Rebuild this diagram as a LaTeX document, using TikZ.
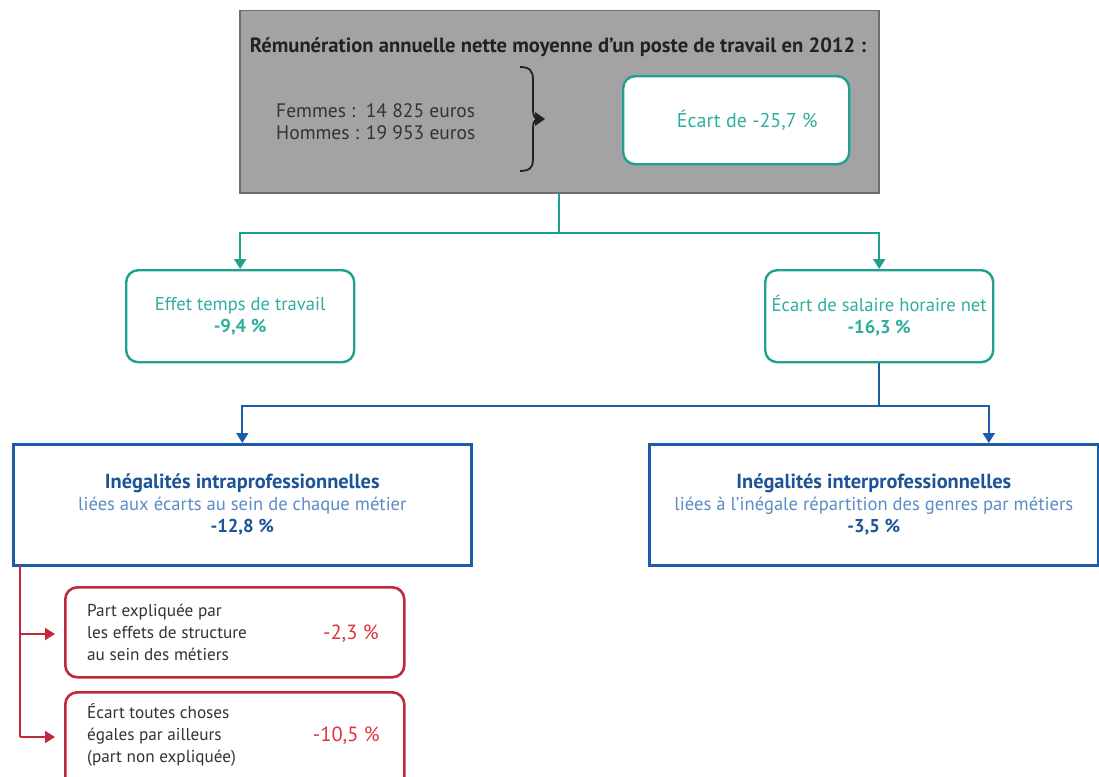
\documentclass[tikz,border=0pt]{standalone}
\usepackage{fontspec}
\setmainfont{PT Sans}
\usetikzlibrary{arrows.meta,positioning}
\definecolor{graybg}{HTML}{A3A3A6}
\definecolor{grayedge}{HTML}{6E6E70}
\definecolor{tealc}{HTML}{22A08F}
\definecolor{tealt}{HTML}{2FAE9E}
\definecolor{bluec}{HTML}{1F5CA8}
\definecolor{bluet}{HTML}{1D5497}
\definecolor{bluel}{HTML}{5D8BC5}
\definecolor{redc}{HTML}{C2283A}
\definecolor{redt}{HTML}{E2313F}
\definecolor{darkt}{HTML}{222222}
\definecolor{bodyt}{HTML}{333333}
\tikzset{
  tealbox/.style={draw=tealc, line width=2.4pt, rounded corners=12pt, fill=white, minimum width=228pt, minimum height=92pt, align=center, text=tealt, font=\fontsize{18.6}{22}\selectfont},
  bluebox/.style={draw=bluec, line width=2.6pt, fill=white, minimum width=458pt, minimum height=121pt, align=center, font=\fontsize{18.6}{22}\selectfont},
  redbox/.style={draw=redc, line width=2.6pt, rounded corners=12pt, fill=white, minimum width=339pt, minimum height=90pt},
  tline/.style={draw=tealc, line width=2pt},
  bline/.style={draw=bluec, line width=2pt},
  rline/.style={draw=redc, line width=2pt},
  tip/.style={-{Triangle[width=12pt,length=10pt]}},
}
\begin{document}
\begin{tikzpicture}[x=1pt,y=-1pt]
\useasboundingbox (0,0) rectangle (1099,776);
\clip (0,0) rectangle (1099,776);
% top gray box
\node[draw=grayedge, line width=1.5pt, fill=graybg, minimum width=639pt, minimum height=182pt, anchor=north west, inner sep=0pt] (top) at (239,10) {};
\node[font=\bfseries\fontsize{20.6}{24}\selectfont, text=darkt] (title) at (558,47) {Rémunération annuelle nette moyenne d'un poste de travail en 2012 :};
\node[anchor=west, align=left, text=bodyt, font=\fontsize{19.5}{22}\selectfont, inner sep=0pt] (fh) at (276,122) {Femmes :\ \ 14 825 euros\\Hommes : 19 953 euros};
% brace
\draw[line width=1.8pt, draw=darkt] (520,67) .. controls (530,67) and (533,71) .. (533,80) -- (533,110) .. controls (533,116) and (535,119) .. (538,119) .. controls (535,119) and (533,122) .. (533,128) -- (533,160) .. controls (533,167) and (530,171) .. (520,171);
\fill[darkt] (535,112) -- (545,119) -- (535,126) -- cycle;
\node[tealbox, minimum width=226pt, minimum height=88pt, anchor=north west, font=\fontsize{20}{22}\selectfont] (ecart) at (622,75) {\hspace*{22pt}Écart de -25,7 \%};
% teal boxes
\node[tealbox, anchor=north west] (b1) at (125,269) {Effet temps de travail\\\textbf{-9,4 \%}};
\node[tealbox, anchor=north west] (b2) at (764,269) {Écart de salaire horaire net\\\textbf{-16,3 \%}};
\draw[tline] (top.south) -- ++(0,39) coordinate (tj);
\draw[tline, tip] (tj) -| (b1.north);
\draw[tline, tip] (tj) -| (b2.north);
% blue boxes
\node[bluebox, anchor=north west] (intra) at (12,443) {\textcolor{bluet}{\bfseries\fontsize{20.4}{22}\selectfont Inégalités intraprofessionnelles}\\\textcolor{bluel}{liées aux écarts au sein de chaque métier}\\\textcolor{bluet}{\bfseries -12,8 \%}};
\node[bluebox, anchor=north west, minimum width=449pt] (inter) at (648,443) {\textcolor{bluet}{\bfseries\fontsize{20.4}{22}\selectfont Inégalités interprofessionnelles}\\\textcolor{bluel}{liées à l'inégale répartition des genres par métiers}\\\textcolor{bluet}{\bfseries -3,5 \%}};
\draw[bline] (b2.south) -- ++(0,43) coordinate (bj);
\draw[bline, tip] (bj) -| (intra.north);
\draw[bline, tip] (bj) -| ([xshift=115pt]inter.north);
% red boxes
\node[redbox, anchor=north west] (r1) at (64,586) {};
\node[anchor=west, align=left, text=bodyt, font=\fontsize{17.2}{22}\selectfont, inner sep=0pt] (r1t) at (87,632) {Part expliquée par\\les effets de structure\\au sein des métiers};
\node[anchor=east, text=redt, font=\fontsize{20.5}{22}\selectfont, inner sep=0pt] (r1v) at (379,634) {-2,3 \%};
\node[redbox, anchor=north west, minimum height=110pt] (r2) at (64,691) {};
\node[anchor=west, align=left, text=bodyt, font=\fontsize{17.2}{22}\selectfont, inner sep=0pt] (r2t) at (87,735) {Écart toutes choses\\égales par ailleurs\\(part non expliquée)};
\node[anchor=east, text=redt, font=\fontsize{20.5}{22}\selectfont, inner sep=0pt] (r2v) at (380,736) {-10,5 \%};
\coordinate (rs) at (20,564);
\coordinate (ra) at (20,634);
\coordinate (rb) at (20,737);
\draw[rline] (rs) -- (rb);
\draw[rline, tip, shorten >=9pt] (ra) -- (r1.west |- ra);
\draw[rline, tip, shorten >=9pt] (rb) -- (r2.west |- rb);
\end{tikzpicture}
\end{document}
